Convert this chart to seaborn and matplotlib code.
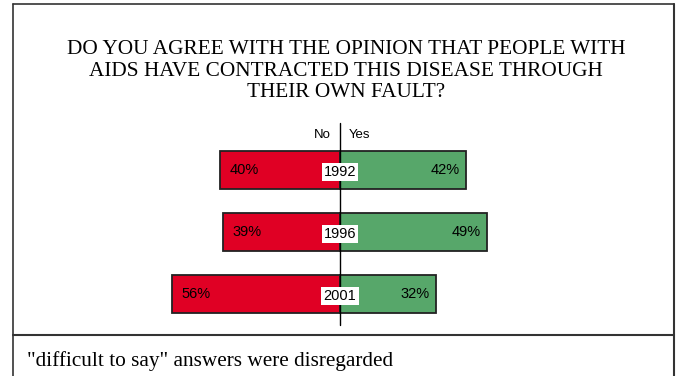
import matplotlib
matplotlib.use("Agg")
import matplotlib.pyplot as plt
import seaborn as sns
import pandas as pd
from matplotlib.lines import Line2D

years = ["1992", "1996", "2001"]
no_pct = [40, 39, 56]
yes_pct = [42, 49, 32]
title_lines = ["DO YOU AGREE WITH THE OPINION THAT PEOPLE WITH",
               "AIDS HAVE CONTRACTED THIS DISEASE THROUGH",
               "THEIR OWN FAULT?"]
note = '"difficult to say" answers were disregarded'

RED = "#E00024"
GREEN = "#57A76A"

W, H = 678, 376
sns.set_style("white")
plt.rcParams["font.family"] = ["Liberation Sans", "DejaVu Sans"]
plt.rcParams["text.color"] = "black"

fig = plt.figure(figsize=(W / 100, H / 100), dpi=100)
ax = fig.add_axes([0, 0, 1, 1])

df = pd.DataFrame({"year": years, "no": [-v for v in no_pct], "yes": yes_pct})
bar_kw = dict(orient="h", width=0.613, edgecolor="#222222", linewidth=1.3,
              saturation=1, ax=ax, order=years)
sns.barplot(data=df, x="no", y="year", color=RED, **bar_kw)
sns.barplot(data=df, x="yes", y="year", color=GREEN, **bar_kw)

# one percent = 3 px, zero at x=340 px; category spacing 62 px, first at y=170 px
ax.set_xlim(-340 / 3, (W - 340) / 3)
ax.set_ylim((H - 170) / 62, -170 / 62)
ax.set_axis_off()

ax.plot([0, 0], [(123 - 170) / 62, (325 - 170) / 62], color="black", lw=1, zorder=5)

for i, (y, n, v) in enumerate(zip(years, no_pct, yes_pct)):
    ax.text(-n + 3.3, i, f"{n}%", ha="left", va="center", fontsize=10.5, zorder=6)
    ax.text(v - 2.0, i, f"{v}%", ha="right", va="center", fontsize=10.5, zorder=6)
    ax.text(0, i + 0.03, y, ha="center", va="center", fontsize=10.5, zorder=7,
            bbox=dict(boxstyle="square,pad=0.15", fc="white", ec="none"))

ax.text(-3, (135.5 - 170) / 62, "No", ha="right", va="center", fontsize=9.5)
ax.text(3, (135.5 - 170) / 62, "Yes", ha="left", va="center", fontsize=9.5)

serif = ["Liberation Serif", "DejaVu Serif"]
for line, base in zip(title_lines, [54, 76, 97]):
    fig.text(346 / W, 1 - base / H, line, ha="center", va="baseline",
             fontsize=15.3, family=serif)
fig.text(27 / W, 1 - 366 / H, note, ha="left", va="baseline", fontsize=15.3,
         family=serif)

# outer frame and footer divider
frame_c = "#333333"
fig.add_artist(Line2D([13 / W, 13 / W], [1 - 4 / H, 0], color=frame_c, lw=1.2,
                      transform=fig.transFigure))
fig.add_artist(Line2D([674 / W, 674 / W], [1 - 4 / H, 0], color=frame_c, lw=1.5,
                      transform=fig.transFigure))
fig.add_artist(Line2D([13 / W, 674 / W], [1 - 4 / H, 1 - 4 / H], color=frame_c,
                      lw=1.2, transform=fig.transFigure))
fig.add_artist(Line2D([13 / W, 674 / W], [1 - 335 / H, 1 - 335 / H],
                      color=frame_c, lw=1.5, transform=fig.transFigure))

fig.savefig("out.png", dpi=100, facecolor="white")
